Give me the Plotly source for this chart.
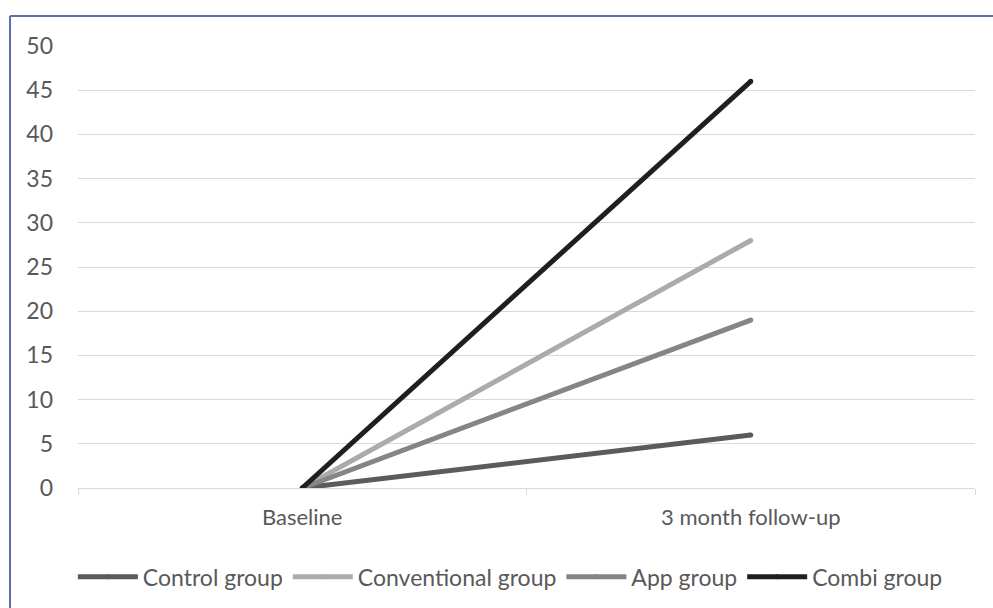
import plotly.graph_objects as go

# Time points and group scores
timepoints = ["Baseline", "3 month follow-up"]
groups = ["Control group", "Conventional group", "App group", "Combi group"]
control_vals = [0, 6]
conventional_vals = [0, 28]
app_vals = [0, 19]
combi_vals = [0, 46]
y_ticks = [0, 5, 10, 15, 20, 25, 30, 35, 40, 45, 50]

series = [control_vals, conventional_vals, app_vals, combi_vals]
colors = ["#5b5b5b", "#ababab", "#858585", "#1f1f1f"]

fig = go.Figure()
for name, vals, col in zip(groups, series, colors):
    fig.add_trace(go.Scatter(
        x=timepoints, y=vals, name=name, mode="lines+markers",
        line=dict(color=col, width=5),
        marker=dict(color=col, size=5, line=dict(width=0)),
    ))

text_color = "#595959"
grid_color = "#d9d9d9"
font_family = "Lato, 'Open Sans', sans-serif"
fsize = 22

fig.update_layout(
    width=993, height=608,
    margin=dict(l=78, r=18, t=46, b=120, autoexpand=False),
    paper_bgcolor="white", plot_bgcolor="white",
    font=dict(family=font_family, size=fsize, color=text_color),
    showlegend=True,
    legend=dict(
        orientation="h", x=0.482, xanchor="center", y=-0.152, yanchor="top",
        font=dict(size=23, color=text_color), itemwidth=60,
        tracegroupgap=0,
    ),
    xaxis=dict(
        type="category", range=[-0.5, 1.5], showgrid=False, showline=True,
        linecolor=grid_color, linewidth=1, ticks="outside",
        tickson="boundaries", ticklen=6, tickcolor=grid_color,
        ticklabelstandoff=10, tickfont=dict(size=fsize, color=text_color),
    ),
    yaxis=dict(
        range=[0, 50], tickvals=y_ticks, showgrid=True, gridcolor=grid_color,
        gridwidth=1, zeroline=False, showline=False, ticks="",
        ticklabelstandoff=24, tickfont=dict(size=23, color=text_color),
    ),
)

# Chart frame (top and left edges)
frame_color = "#5f6fb0"
fig.add_shape(type="line", xref="paper", yref="paper",
              x0=-0.0758, x1=1.2, y0=1.068, y1=1.068,
              line=dict(color=frame_color, width=2))
fig.add_shape(type="line", xref="paper", yref="paper",
              x0=-0.0758, x1=-0.0758, y0=-0.5, y1=1.068,
              line=dict(color=frame_color, width=2))

fig.write_html("out.html")
